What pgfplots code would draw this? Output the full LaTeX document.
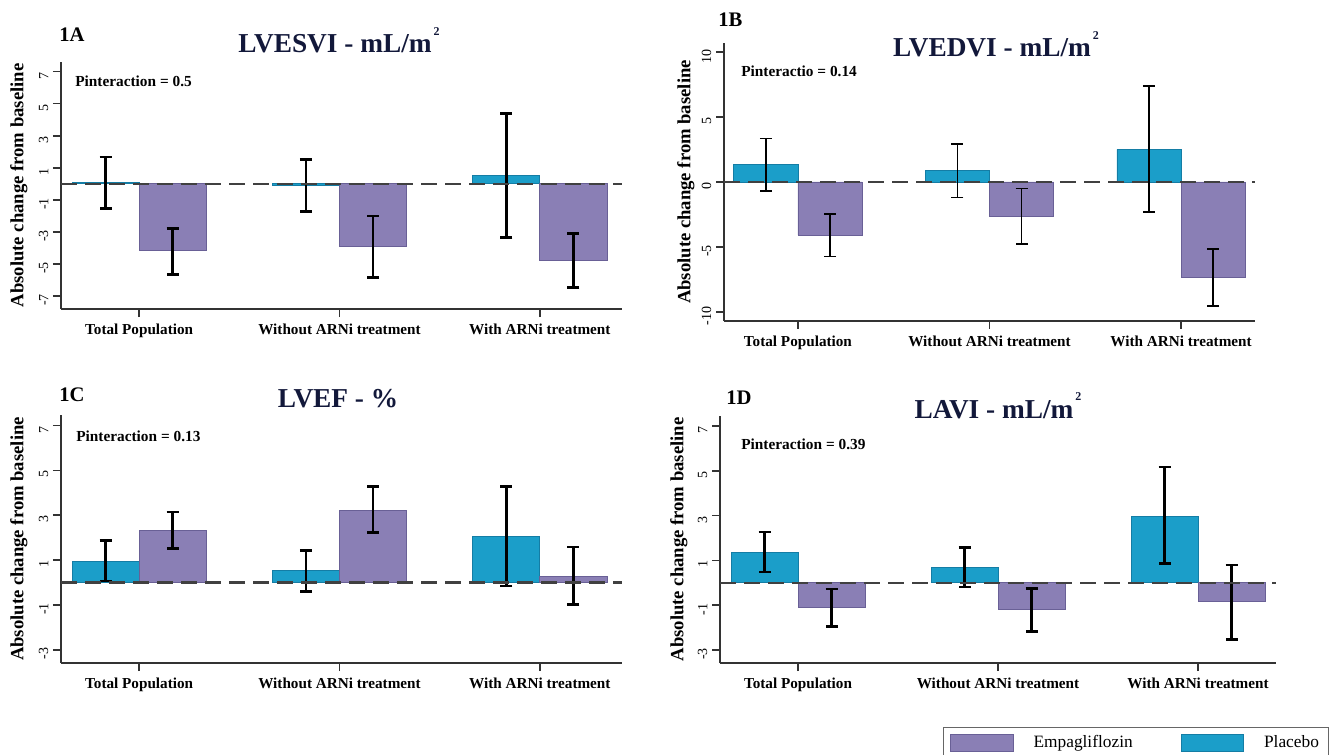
\documentclass[border=0pt]{standalone}
\usepackage{pgfplots}
\pgfplotsset{compat=1.18}
\usepackage{pgfplotstable}
\usepackage{fontspec}
\setmainfont{Liberation Serif}
\definecolor{plac}{RGB}{27,158,201}
\definecolor{placd}{RGB}{20,125,165}
\definecolor{empa}{RGB}{138,127,181}
\definecolor{empad}{RGB}{105,96,150}
\definecolor{ttl}{RGB}{18,24,58}
\def\u{0.75pt}
\newcommand\sqr{\hspace{1.5pt}\raisebox{13pt}{\fontsize{9}{9}\selectfont\bfseries 2}}

% x: category; pl: placebo mean, plhi/pllo: CI; em: empagliflozin mean, emhi/emlo: CI
\pgfplotstableread{
x pl plhi pllo em emhi emlo
0 0.08 1.67 -1.52 -4.17 -2.77 -5.63
1 -0.10 1.54 -1.73 -3.88 -2.00 -5.83
2 0.52 4.38 -3.33 -4.75 -3.08 -6.46
}\tabA
\pgfplotstableread{
x pl plhi pllo em emhi emlo
0 1.33 3.36 -0.67 -4.08 -2.46 -5.74
1 0.87 2.92 -1.20 -2.62 -0.49 -4.77
2 2.51 7.41 -2.31 -7.36 -5.18 -9.54
}\tabB
\pgfplotstableread{
x pl plhi pllo em emhi emlo
0 0.92 1.86 0.06 2.32 3.14 1.52
1 0.52 1.44 -0.39 3.23 4.27 2.23
2 2.04 4.27 -0.16 0.28 1.59 -0.97
}\tabC
\pgfplotstableread{
x pl plhi pllo em emhi emlo
0 1.37 2.27 0.49 -1.09 -0.27 -1.94
1 0.69 1.59 -0.19 -1.19 -0.25 -2.18
2 2.98 5.17 0.85 -0.85 0.79 -2.53
}\tabD

\pgfplotsset{
  panel/.style={
    scale only axis,
    anchor=south west,
    axis x line=bottom, axis y line=left,
    axis line style={-, line width=1.3pt, black!80},
    xtick={0,1,2},
    xticklabels={Total Population, Without ARNi treatment, With ARNi treatment},
    x tick label style={font=\fontsize{11.4}{13}\selectfont\bfseries, yshift=-1.5pt},
    tick align=outside,
    major tick length=6pt,
    tick style={line width=1.2pt, black!80},
    yticklabel style={rotate=90, anchor=south, xshift=-3pt, font=\fontsize{10.5}{12}\selectfont},
    ylabel={Absolute change from baseline},
    ylabel style={font=\fontsize{14}{16}\selectfont\bfseries, anchor=center},
    clip=false,
    enlargelimits=false,
  },
  pbar/.style={ybar, bar width=0.335, bar shift=0pt, fill=plac, draw=placd, line width=0.6pt, forget plot,
    /pgfplots/error bars/y dir=both, /pgfplots/error bars/y explicit,
    /pgfplots/error bars/error bar style={black, line width=#1},
    /pgfplots/error bars/error mark options={rotate=90, black, mark size=4.5pt, line width=#1}},
  ebar/.style={ybar, bar width=0.335, bar shift=0pt, fill=empa, draw=empad, line width=0.6pt, forget plot,
    /pgfplots/error bars/y dir=both, /pgfplots/error bars/y explicit,
    /pgfplots/error bars/error bar style={black, line width=#1},
    /pgfplots/error bars/error mark options={rotate=90, black, mark size=4.5pt, line width=#1}},
  zline/.style={black!75, line width=1.8pt, dash pattern=on 12pt off 6pt, forget plot},
}

\newcommand\bars[2]{%
  \addplot[pbar=#2] table[x expr=\thisrow{x}-0.1675, y=pl,
     y error plus expr=\thisrow{plhi}-\thisrow{pl}, y error minus expr=\thisrow{pl}-\thisrow{pllo}] {#1};
  \addplot[ebar=#2] table[x expr=\thisrow{x}+0.1675, y=em,
     y error plus expr=\thisrow{emhi}-\thisrow{em}, y error minus expr=\thisrow{em}-\thisrow{emlo}] {#1};
}

\begin{document}
\begin{tikzpicture}
% ---------- 1A ----------
\begin{axis}[panel, at={(61*\u,-309*\u)}, width=561*\u, height=247*\u,
  xmin=-0.39, xmax=2.41, ymin=-7.8, ymax=7.6,
  ytick={-7,-5,-3,-1,1,3,5,7}, yticklabels={-7,-5,-3,-1,1,3,5,7},
  ylabel style={at={(axis description cs:-0.075,0.5)}}]
\bars{\tabA}{2pt}
\addplot[zline] coordinates {(-0.39,0) (2.41,0)};
\end{axis}
% ---------- 1B ----------
\begin{axis}[panel, at={(724*\u,-321*\u)}, width=531*\u, height=278*\u,
  xmin=-0.386, xmax=2.386, ymin=-10.7, ymax=10.7,
  ytick={-10,-5,0,5,10}, yticklabels={-10,-5,0,5,10},
  ylabel style={at={(axis description cs:-0.072,0.5)}}]
\bars{\tabB}{1.2pt}
\addplot[zline] coordinates {(-0.386,0) (2.386,0)};
\end{axis}
% ---------- 1C ----------
\begin{axis}[panel, at={(61*\u,-663*\u)}, width=561*\u, height=248*\u,
  xmin=-0.39, xmax=2.41, ymin=-3.59, ymax=7.47,
  ytick={-3,-1,1,3,5,7}, yticklabels={-3,-1,1,3,5,7},
  ylabel style={at={(axis description cs:-0.075,0.5)}}]
\bars{\tabC}{2pt}
\addplot[zline] coordinates {(-0.39,0) (2.41,0)};
\end{axis}
% ---------- 1D ----------
\begin{axis}[panel, at={(720*\u,-663*\u)}, width=556*\u, height=247*\u,
  xmin=-0.39, xmax=2.39, ymin=-3.58, ymax=7.45,
  ytick={-3,-1,1,3,5,7}, yticklabels={-3,-1,1,3,5,7},
  ylabel style={at={(axis description cs:-0.074,0.5)}},
  legend image code/.code={\draw[#1, line width=0.5pt] (0pt,-6.3pt) rectangle (47pt,6.3pt);},
  legend style={at={(axis description cs:0.401,-0.259)}, anchor=north west,
    legend columns=2, draw=black!60, line width=0.9pt, inner xsep=5pt, inner ysep=4pt,
    font=\fontsize{13}{15}\selectfont, legend cell align=left,
    /tikz/every odd column/.append style={column sep=13pt},
    /tikz/every even column/.append style={column sep=34pt}}]
\bars{\tabD}{2pt}
\addplot[zline] coordinates {(-0.39,0) (2.39,0)};
\addlegendimage{fill=empa, draw=empad}
\addlegendentry{Empagliflozin}
\addlegendimage{fill=plac, draw=placd}
\addlegendentry{Placebo}
\end{axis}

% titles and annotations
\begin{scope}[every node/.style={inner sep=0pt}]
\node[anchor=base, font=\fontsize{20.5}{24}\selectfont\bfseries, text=ttl] at (339*\u,-53*\u) {LVESVI - mL/m\sqr};
\node[anchor=base, font=\fontsize{20.5}{24}\selectfont\bfseries, text=ttl] at (996*\u,-57*\u) {LVEDVI - mL/m\sqr};
\node[anchor=base, font=\fontsize{20.5}{24}\selectfont\bfseries, text=ttl] at (338*\u,-407*\u) {LVEF - \%};
\node[anchor=base, font=\fontsize{20.5}{24}\selectfont\bfseries, text=ttl] at (998*\u,-418*\u) {LAVI - mL/m\sqr};
\node[anchor=base west, font=\fontsize{15.5}{18}\selectfont\bfseries] at (59*\u,-42*\u) {1A};
\node[anchor=base west, font=\fontsize{15.5}{18}\selectfont\bfseries] at (718*\u,-27*\u) {1B};
\node[anchor=base west, font=\fontsize{15.5}{18}\selectfont\bfseries] at (59*\u,-402*\u) {1C};
\node[anchor=base west, font=\fontsize{15.5}{18}\selectfont\bfseries] at (726*\u,-405*\u) {1D};
\node[anchor=base west, font=\fontsize{11.5}{13}\selectfont\bfseries] at (75*\u,-87*\u) {Pinteraction = 0.5};
\node[anchor=base west, font=\fontsize{11.5}{13}\selectfont\bfseries] at (741*\u,-77*\u) {Pinteractio = 0.14};
\node[anchor=base west, font=\fontsize{11.5}{13}\selectfont\bfseries] at (76*\u,-441*\u) {Pinteraction = 0.13};
\node[anchor=base west, font=\fontsize{11.5}{13}\selectfont\bfseries] at (741*\u,-449*\u) {Pinteraction = 0.39};
\end{scope}
\pgfresetboundingbox
\path (0,0) rectangle (1331*\u,-755*\u);
\end{tikzpicture}
\end{document}
